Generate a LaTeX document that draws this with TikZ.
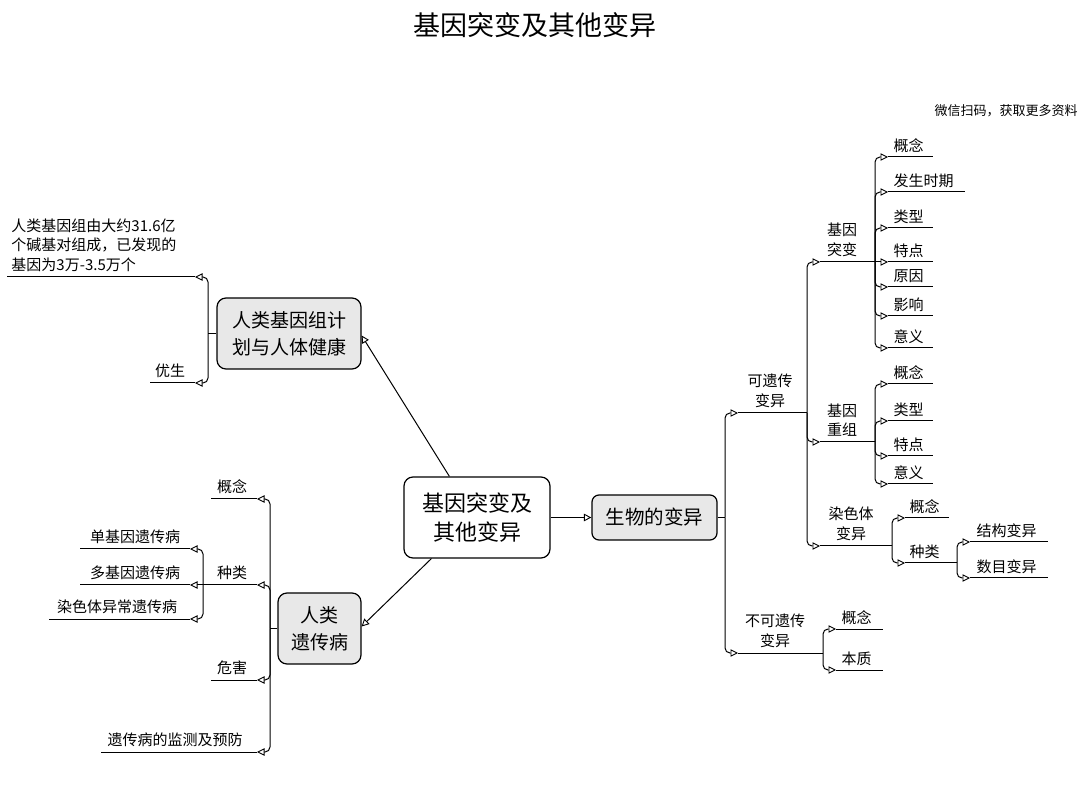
\documentclass[tikz,border=0pt]{standalone}
\usepackage{fontspec}
\setmainfont{Noto Sans CJK SC}
\usetikzlibrary{arrows.meta}
\definecolor{boxgray}{HTML}{E8E8E8}
\newcommand\rleaf[4]{\draw[tip,rc] (#1,#2) |- ({#1+13},#3); \draw ({#1+13},#3) -- (#4,#3);}
\newcommand\lleaf[4]{\draw[tip,rc] (#1,#2) |- ({#1-13},#3); \draw ({#1-13},#3) -- (#4,#3);}
\begin{document}
\begin{tikzpicture}[x=1pt,y=-1pt,
 line width=1pt,
 tip/.style={-{Triangle[open,length=7.5pt,width=7.5pt,line width=0.9pt]}},
 rc/.style={rounded corners=5pt},
 lbl/.style={font=\fontsize{15}{19.5}\selectfont, inner sep=1pt, align=center},
 box/.style={draw, line width=1.2pt, rounded corners=9pt, fill=boxgray, align=center, inner sep=2pt},
]
\useasboundingbox (0,0) rectangle (1080,791);

% title and note
\node[font=\fontsize{27}{30}\selectfont] (title) at (535,25) {基因突变及其他变异};
\node[font=\fontsize{13}{15}\selectfont, anchor=east, inner sep=0pt] (wm) at (1078,111) {微信扫码，获取更多资料};

% main boxes
\node[box, fill=white, minimum width=146pt, minimum height=81pt, font=\fontsize{22}{29}\selectfont] (center) at (477,517.5) {基因突变及\\其他变异};
\node[box, minimum width=125pt, minimum height=45pt, font=\fontsize{19.5}{24}\selectfont, rounded corners=7pt] (bio) at (654.5,517.5) {生物的变异};
\node[box, minimum width=144pt, minimum height=71pt, font=\fontsize{19}{27}\selectfont] (genome) at (289,333.5) {人类基因组计\\划与人体健康};
\node[box, minimum width=83pt, minimum height=71pt, font=\fontsize{19}{27}\selectfont] (disease) at (319.5,628.5) {人类\\遗传病};

\draw[tip] (center) -- (bio);
\draw[tip] ([xshift=46pt]center.north west) -- ([yshift=-2pt]genome.east);
\draw[tip] ([xshift=28pt]center.south west) -- ([yshift=2pt]disease.east);

% ---------- right tree ----------
\draw (bio.east) -- (725,517.5);
\rleaf{725}{517.5}{413}{807}
\rleaf{725}{517.5}{653}{823}
\node[lbl, anchor=south] (kyc) at (770,409) {可遗传\\变异};
\node[lbl, anchor=south] (bkyc) at (775,649) {不可遗传\\变异};

% heritable
\rleaf{807}{413}{262}{875}
\rleaf{807}{413}{442}{875}
\rleaf{807}{413}{546}{892}
\node[lbl, anchor=south] (jytb) at (842,258) {基因\\突变};
\node[lbl, anchor=south] (jycz) at (842,438) {基因\\重组};
\node[lbl, anchor=south] (rstb) at (851,542) {染色体\\变异};

% gene mutation
\rleaf{875}{262}{157}{933}
\rleaf{875}{262}{192}{965}
\rleaf{875}{262}{228}{933}
\draw[tip] (875,262) -- (888,262); \draw (888,262) -- (933,262);
\rleaf{875}{262}{287}{933}
\rleaf{875}{262}{316}{933}
\rleaf{875}{262}{348}{933}
\node[lbl, anchor=south west] (a1) at (892,154) {概念};
\node[lbl, anchor=south west] (a2) at (892,189) {发生时期};
\node[lbl, anchor=south west] (a3) at (892,225) {类型};
\node[lbl, anchor=south west] (a4) at (892,259) {特点};
\node[lbl, anchor=south west] (a5) at (892,284) {原因};
\node[lbl, anchor=south west] (a6) at (892,313) {影响};
\node[lbl, anchor=south west] (a7) at (892,345) {意义};

% recombination
\rleaf{875}{442}{384}{933}
\rleaf{875}{442}{421}{933}
\rleaf{875}{442}{456}{933}
\rleaf{875}{442}{484}{933}
\node[lbl, anchor=south west] (b1) at (892,381) {概念};
\node[lbl, anchor=south west] (b2) at (892,418) {类型};
\node[lbl, anchor=south west] (b3) at (892,453) {特点};
\node[lbl, anchor=south west] (b4) at (892,481) {意义};

% chromosome variation
\rleaf{892}{546}{518}{949}
\rleaf{892}{546}{563}{957}
\node[lbl, anchor=south west] (c1) at (908,515) {概念};
\node[lbl, anchor=south west] (c2) at (908,560) {种类};
\rleaf{957}{563}{542}{1048}
\rleaf{957}{563}{578}{1048}
\node[lbl, anchor=south west] (c3) at (975,539) {结构变异};
\node[lbl, anchor=south west] (c4) at (975,575) {数目变异};

% non-heritable
\rleaf{823}{653}{629}{883}
\rleaf{823}{653}{670}{883}
\node[lbl, anchor=south west] (d1) at (840,626) {概念};
\node[lbl, anchor=south west] (d2) at (840,667) {本质};

% ---------- left tree: genome ----------
\draw (genome.west) -- (208,333.5);
\lleaf{208}{333.5}{277}{7}
\lleaf{208}{333.5}{383}{150}
\node[lbl, anchor=south west, align=left] (g1) at (10,273) {人类基因组由大约31.6亿\\个碱基对组成，已发现的\\基因为3万-3.5万个};
\node[lbl, anchor=south] (g2) at (170,379) {优生};

% ---------- left tree: disease ----------
\draw (disease.west) -- (270,628.5);
\lleaf{270}{628.5}{499}{211}
\lleaf{270}{628.5}{585}{203}
\lleaf{270}{628.5}{680}{211}
\lleaf{270}{628.5}{752}{101}
\node[lbl, anchor=south] (e1) at (232,495) {概念};
\node[lbl, anchor=south] (e2) at (232,581) {种类};
\node[lbl, anchor=south] (e3) at (232,676) {危害};
\node[lbl, anchor=south] (e4) at (175,748) {遗传病的监测及预防};

\lleaf{203}{585}{549}{80}
\draw[tip] (203,585) -- (190,585); \draw (190,585) -- (80,585);
\lleaf{203}{585}{619}{49}
\node[lbl, anchor=south] (f1) at (135,545) {单基因遗传病};
\node[lbl, anchor=south] (f2) at (135,581) {多基因遗传病};
\node[lbl, anchor=south] (f3) at (117,615) {染色体异常遗传病};
\end{tikzpicture}
\end{document}
